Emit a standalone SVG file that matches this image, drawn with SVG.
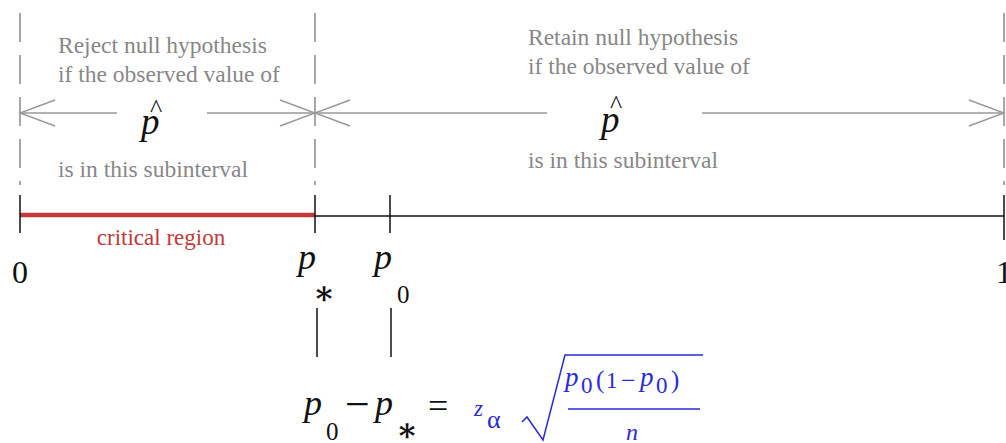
<svg xmlns="http://www.w3.org/2000/svg" width="1006" height="443" viewBox="0 0 1006 443">
<defs>
<style>
.note{font-family:"Liberation Serif",serif;font-size:23.5px;fill:#878787}
.dash{stroke:#8a8a8a;stroke-width:1.5;stroke-dasharray:29 13;fill:none}
.arr{stroke:#999;stroke-width:1.5;fill:none}
.tick{stroke:#111;stroke-width:1.5;fill:none}
.m{font-family:"Liberation Serif",serif;fill:#111}
.mi{font-family:"Liberation Serif",serif;font-style:italic;fill:#111}
.ast{font-family:"DejaVu Serif",serif;font-weight:bold;fill:#111}
.b{font-family:"Liberation Serif",serif;fill:#2a2ad8}
.bi{font-family:"Liberation Serif",serif;font-style:italic;fill:#2a2ad8}
</style>
<marker id="open" viewBox="-37 -15 39 30" refX="0" refY="0" markerWidth="39" markerHeight="30" markerUnits="userSpaceOnUse" orient="auto-start-reverse">
<path d="M-35,-13 L0,0 L-35,13" stroke="#999" stroke-width="1.5" fill="none"/>
</marker>
</defs>
<rect width="1006" height="443" fill="#fff"/>

<g id="dividers">
<line class="dash" x1="20" y1="13" x2="20" y2="185"/>
<line class="dash" x1="315" y1="13" x2="315" y2="185"/>
<line class="dash" x1="1004" y1="13" x2="1004" y2="185"/>
</g>

<g id="connectors">
<line class="arr" x1="20" y1="113" x2="117" y2="113" marker-start="url(#open)"/>
<line class="arr" x1="207" y1="113" x2="315" y2="113" marker-end="url(#open)"/>
<line class="arr" x1="315" y1="113" x2="547" y2="113" marker-start="url(#open)"/>
<line class="arr" x1="702" y1="113" x2="1004" y2="113" marker-end="url(#open)"/>
</g>

<g id="reject-note">
<text class="note" x="58" y="53">Reject null hypothesis</text>
<text class="note" x="58" y="82">if the observed value of</text>
<text class="note" x="58" y="177">is in this subinterval</text>
<text class="m" x="156" y="117" font-size="26" text-anchor="middle">^</text>
<text class="mi" x="141" y="134" font-size="37">p</text>
</g>

<g id="retain-note">
<text class="note" x="528" y="45">Retain null hypothesis</text>
<text class="note" x="528" y="74">if the observed value of</text>
<text class="note" x="528" y="168">is in this subinterval</text>
<text class="m" x="616" y="113" font-size="26" text-anchor="middle">^</text>
<text class="mi" x="601" y="132" font-size="37">p</text>
</g>

<g id="axis">
<line x1="20" y1="215" x2="315" y2="215" stroke="#c0393b" stroke-width="4.5"/>
<line class="tick" x1="315" y1="216" x2="1004" y2="216"/>
<line class="tick" x1="20" y1="195" x2="20" y2="233"/>
<line class="tick" x1="315" y1="195" x2="315" y2="233"/>
<line class="tick" x1="390" y1="195" x2="390" y2="233"/>
<line class="tick" x1="1004" y1="195" x2="1004" y2="240"/>
<text x="161" y="245" font-family="Liberation Serif, serif" font-size="23" fill="#c0393b" text-anchor="middle">critical region</text>
<text class="m" x="20" y="283" font-size="32" text-anchor="middle">0</text>
<text class="m" x="996" y="283" font-size="32">1</text>
</g>

<g id="p-star">
<text class="mi" x="298" y="269" font-size="36">p</text>
<text class="ast" x="313" y="304" font-size="32">∗</text>
<line class="tick" x1="317" y1="308" x2="317" y2="357"/>
</g>

<g id="p-zero">
<text class="mi" x="374" y="269" font-size="36">p</text>
<text class="m" x="397" y="303" font-size="25">0</text>
<line class="tick" x1="391" y1="308" x2="391" y2="357"/>
</g>

<g id="formula">
<text class="mi" x="304" y="415" font-size="36">p</text>
<text class="m" x="326" y="440" font-size="25">0</text>
<text class="m" x="345" y="419" font-size="44">−</text>
<text class="mi" x="375" y="415" font-size="36">p</text>
<text class="ast" x="396" y="441" font-size="32">∗</text>
<text class="m" x="428" y="418" font-size="36">=</text>
<text class="bi" x="474" y="416" font-size="23">z</text>
<text class="b" x="487" y="428" font-size="26">α</text>
<polyline points="522,422 527,417 543,440 565,355 703,355" fill="none" stroke="#2a2ad8" stroke-width="1.5"/>
<text class="bi" x="565" y="386" font-size="27">p</text>
<text class="b" x="581" y="393" font-size="23">0</text>
<text class="b" x="596" y="388" font-size="25">(</text>
<text class="b" x="606" y="388" font-size="23">1</text>
<text class="b" x="621" y="389" font-size="26">−</text>
<text class="bi" x="640" y="386" font-size="27">p</text>
<text class="b" x="656" y="393" font-size="23">0</text>
<text class="b" x="671" y="388" font-size="25">)</text>
<line x1="568" y1="409" x2="700" y2="409" stroke="#2a2ad8" stroke-width="1.5"/>
<text class="bi" x="626" y="440" font-size="24">n</text>
</g>
</svg>
